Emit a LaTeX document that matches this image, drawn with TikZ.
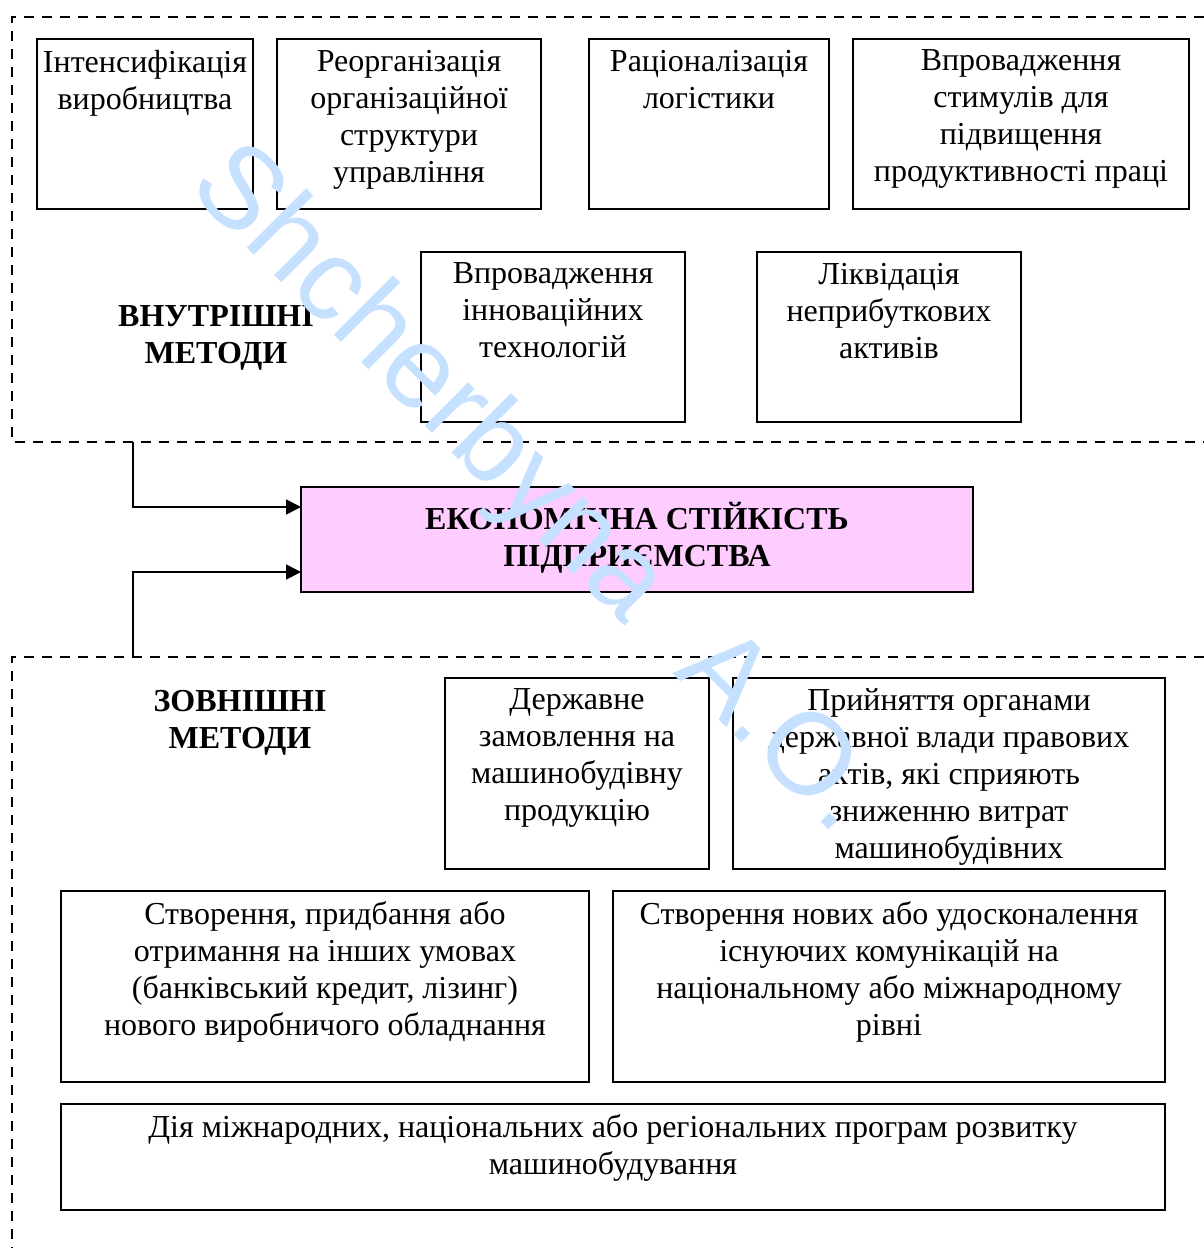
\documentclass[tikz,border=0pt]{standalone}
\usepackage{fontspec}
\setmainfont{Liberation Serif}
\setsansfont{Liberation Sans}
\usetikzlibrary{arrows.meta,positioning}
\definecolor{corefill}{HTML}{FFCCFF}
\definecolor{markblue}{HTML}{C6E1FF}

\begin{document}
\begin{tikzpicture}[
  x=0.5pt, y=-0.5pt,
  node distance=12pt,
  method/.style={draw, line width=0.9pt, anchor=north west, inner sep=0pt,
    outer sep=0pt, minimum width=#1},
  methodtext/.style={anchor=north, align=center, inner xsep=0pt, inner ysep=5.25pt,
    font=\fontsize{16}{18.5}\selectfont, execute at begin node=\strut},
  heading/.style={methodtext, font=\fontsize{16}{18.5}\selectfont\bfseries},
  core/.style={draw, line width=0.9pt, fill=corefill, outer sep=0pt,
    minimum width=336pt, minimum height=52.5pt, anchor=north west},
  group/.style={dashed, dash pattern=on 5pt off 4pt, line width=0.9pt},
  arrow/.style={-{Triangle[length=7.5pt, width=7.5pt]}, line width=0.9pt},
  watermark/.style={text=markblue, font=\sffamily\fontsize{58}{58}\selectfont}
]
\useasboundingbox (0,0) rectangle (1204,1248);

% internal methods
\draw[group] (1204,17) -- (12,17) -- (12,442) -- (1204,442);
\node[method=108pt, minimum height=85pt] (intens) at (37,39) {};
\node[method=132pt, minimum height=85pt, right=of intens] (reorg) {};
\node[method=120pt, minimum height=85pt] (ration) at (589,39) {};
\node[method=168pt, minimum height=85pt, right=of ration] (stimul) {};
\node[method=132pt, minimum height=85pt] (innov) at (421,252) {};
\node[method=132pt, minimum height=85pt, right=36pt of innov] (liquid) {};

\node[methodtext] (intens-t) at (intens.north) {Інтенсифікація\\виробництва};
\node[methodtext] (reorg-t) at (reorg.north) {Реорганізація\\організаційної\\структури\\управління};
\node[methodtext] (ration-t) at (ration.north) {Раціоналізація\\логістики};
\node[methodtext] (stimul-t) at (stimul.north) {Впровадження\\стимулів для\\підвищення\\продуктивності праці};
\node[methodtext] (innov-t) at (innov.north) {Впровадження\\інноваційних\\технологій};
\node[methodtext] (liquid-t) at (liquid.north) {Ліквідація\\неприбуткових\\активів};
\node[heading] (inner) at (216,295) {ВНУТРІШНІ\\МЕТОДИ};

% result
\node[core] (econ) at (301,487) {};
\node[heading, yshift=-2pt] (econ-t) at (econ.north) {ЕКОНОМІЧНА СТІЙКІСТЬ\\ПІДПРИЄМСТВА};
\coordinate (inTop) at (133,442);
\coordinate (exBot) at (133,657);
\draw[arrow] (inTop) |- ([yshift=16.25pt]econ.west);
\draw[arrow] (exBot) |- ([yshift=-16.25pt]econ.west);

% external methods
\draw[group] (1204,657) -- (12,657) -- (12,1248);
\node[heading] (outer) at (240,679) {ЗОВНІШНІ\\МЕТОДИ};
\node[method=132pt, minimum height=95.5pt] (order) at (445,678) {};
\node[method=216pt, minimum height=95.5pt, right=of order] (legal) {};
\node[method=264pt, minimum height=95.5pt] (equip) at (61,891) {};
\node[method=276pt, minimum height=95.5pt, right=of equip] (commun) {};
\node[method=552pt, minimum height=53pt, below=11pt of equip.south west,
  anchor=north west] (program) {};

\node[methodtext] (order-t) at (order.north) {Державне\\замовлення на\\машинобудівну\\продукцію};
\node[methodtext] (legal-t) at (legal.north) {Прийняття органами\\державної влади правових\\актів, які сприяють\\зниженню витрат\\машинобудівних};
\node[methodtext] (equip-t) at (equip.north) {Створення, придбання або\\отримання на інших умовах\\(банківський кредит, лізинг)\\нового виробничого обладнання};
\node[methodtext] (commun-t) at (commun.north) {Створення нових або удосконалення\\існуючих комунікацій на\\національному або міжнародному\\рівні};
\node[methodtext] (program-t) at (program.north) {Дія міжнародних, національних або регіональних програм розвитку\\машинобудування};

\node[watermark, rotate=-45, anchor=base west] (mark) at (182,183) {Shcherbyna \hspace{0.3em}A.O.};
\end{tikzpicture}
\end{document}
